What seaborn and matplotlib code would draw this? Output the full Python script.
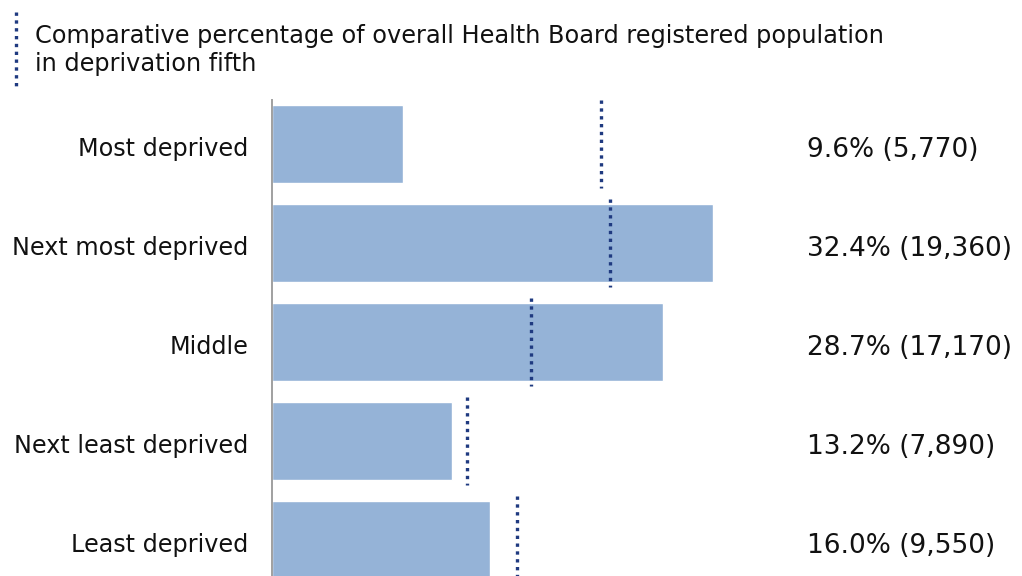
import seaborn as sns
import numpy as np
import pandas as pd
import matplotlib.pyplot as plt
import matplotlib.transforms as mtransforms
from matplotlib.lines import Line2D

# data
fifths = ["Most deprived", "Next most deprived", "Middle", "Next least deprived", "Least deprived"]
pct = [9.6, 32.4, 28.7, 13.2, 16.0]
counts = ["5,770", "19,360", "17,170", "7,890", "9,550"]
board_pct = [24.2, 24.8, 19.0, 14.3, 18.0]

df = pd.DataFrame({"fifth": fifths, "pct": pct})

sns.set_style("white")
plt.rcParams['font.family'] = ['DejaVu Sans']

fig = plt.figure(figsize=(10.22, 5.76), dpi=100)
ax = fig.add_axes([272 / 1022, 0, 1 - 272 / 1022, 1 - 100 / 576])

sns.barplot(data=df, x="pct", y="fifth", color="#95b3d7", saturation=1,
            width=0.78, ax=ax)

# health board comparison markers
for i, b in enumerate(board_pct):
    ax.vlines(b, i - 0.44, i + 0.44, color="#1f3a80", lw=2.4,
              linestyles=(0, (1, 1.35)))

# value labels on the right
for i, (p, c) in enumerate(zip(pct, counts)):
    ax.text((807 - 272) / 13.61, i + 0.06, f"{p:.1f}% ({c})", ha="left", va="center",
            fontsize=19, color="#111111")

ax.set_xlim(0, (1022 - 272) / 13.61)
ax.set_ylim(4.364, -0.444)
ax.set_xlabel("")
ax.set_ylabel("")
ax.set_xticks([])
ax.tick_params(axis="y", length=0, pad=17, labelsize=17.2, labelcolor="#111111")
shift = mtransforms.ScaledTranslation(0, -3 / 100, fig.dpi_scale_trans)
for lab in ax.get_yticklabels():
    lab.set_transform(lab.get_transform() + shift)
for s in ["top", "right", "bottom"]:
    ax.spines[s].set_visible(False)
ax.spines["left"].set_color("#a0a0a0")
ax.spines["left"].set_linewidth(1.4)

# legend
fig.add_artist(Line2D([16 / 1022, 16 / 1022], [1 - 12 / 576, 1 - 90 / 576],
                      color="#1f3a80", lw=2.4, linestyle=(0, (1, 1.35))))
fig.text(35 / 1022, 1 - 50 / 576,
         "Comparative percentage of overall Health Board registered population\nin deprivation fifth",
         ha="left", va="center", fontsize=17.3, color="#111111", linespacing=1.25)

fig.savefig("out.png", dpi=100)
